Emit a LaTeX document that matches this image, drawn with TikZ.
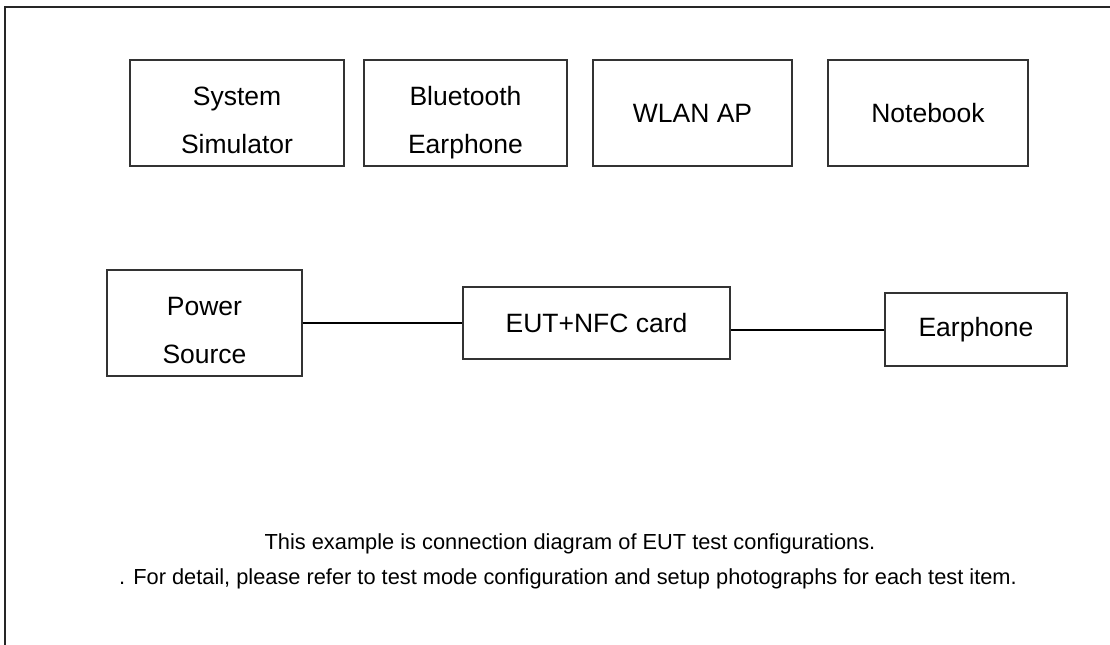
\documentclass[tikz,border=0pt]{standalone}
\usepackage{fontspec}
\setmainfont{Liberation Sans}
\begin{document}
\begin{tikzpicture}[x=0.5pt,y=-0.5pt]
	\tikzstyle{device}=[rectangle,draw=black!80,line width=0.6pt,inner sep=0pt,align=center,font=\fontsize{13.25}{24}\selectfont]
	\tikzstyle{twoline}=[text height=40pt,text depth=0pt]
	\tikzstyle{note}=[anchor=base,inner sep=0pt,font=\fontsize{10.9}{13}\selectfont]
	\tikzstyle{link}=[draw, line width=1pt]
	\useasboundingbox (0,0) rectangle (1110,644);
	% outer frame
	\draw[line width=1pt,black!85] (5,650) -- (5,7) -- (1116,7);
	\begin{scope}
		% test equipment
		\node [device,twoline,minimum width=107pt,minimum height=53pt] (sim) at (237,113) {System\\Simulator};
		\node [device,twoline,minimum width=101.5pt,minimum height=53pt] (bt) at (465.5,113) {Bluetooth\\Earphone};
		\node [device,minimum width=99.5pt,minimum height=53pt] (ap) at (692.5,113) {WLAN AP};
		\node [device,minimum width=100pt,minimum height=53pt] (nb) at (928,113) {Notebook};
		% setup
		\node [device,twoline,minimum width=97.5pt,minimum height=53pt] (pwr) at (204.5,323) {Power\\Source};
		\node [device,minimum width=133.5pt,minimum height=36pt] (eut) at (596.5,323) {EUT+NFC card};
		\node [device,minimum width=91pt,minimum height=36.5pt] (ear) at (976,329.5) {Earphone};
		\path[link] (pwr) edge (eut);
		\path[link] (eut.east |- ear.west) edge (ear.west);
		% notes
		\node [note] (n1) at (570,549) {This example is connection diagram of EUT test configurations.};
		\node [note] (n2) at (568,584) {. For detail, please refer to test mode configuration and setup photographs for each test item.};
	\end{scope}
\end{tikzpicture}
\end{document}
